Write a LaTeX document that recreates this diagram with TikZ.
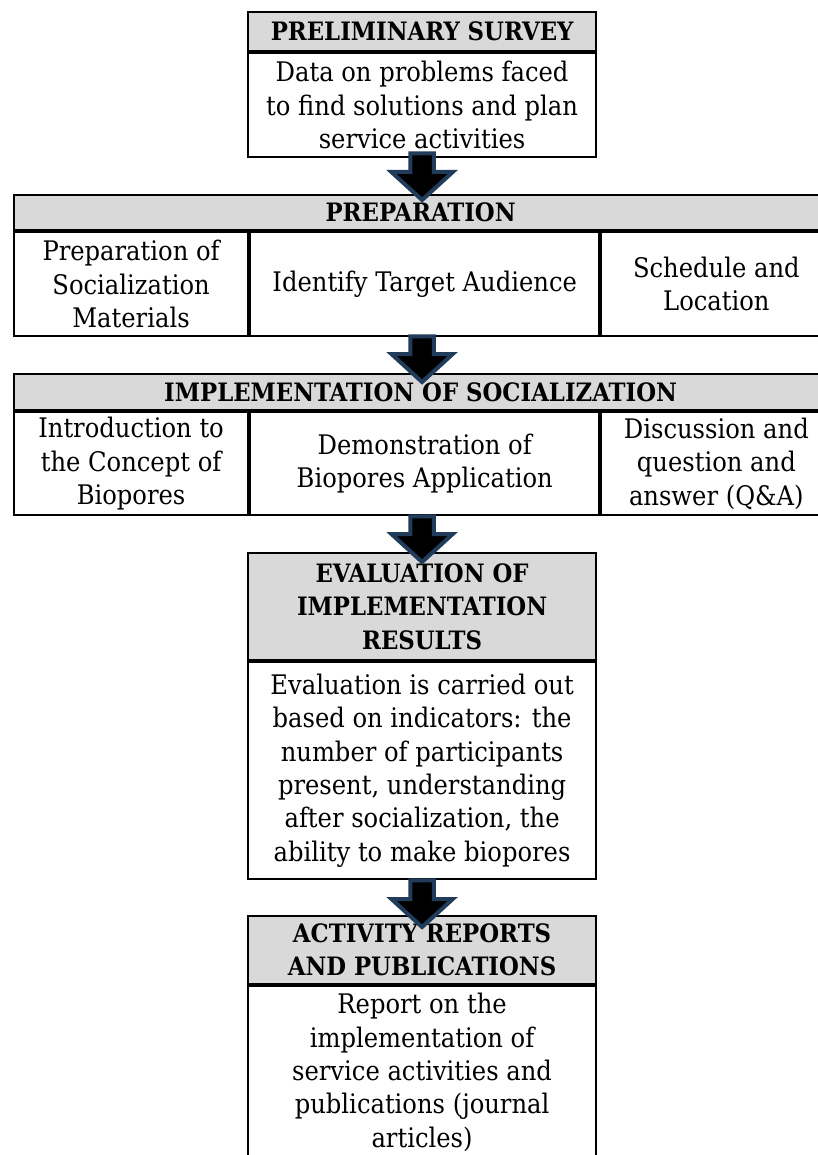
\documentclass[tikz,border=0pt]{standalone}
\usepackage{fontspec}
\setmainfont{DejaVu Serif Condensed}
\usetikzlibrary{calc}
\definecolor{hdrgrey}{RGB}{217,217,217}
\definecolor{arrowedge}{RGB}{33,59,90}
% block arrow from a start coordinate (top of shaft) down to a tip coordinate
\newcommand\flowarrow[2]{%
  \draw[blockarrow] let \p1=(#1), \p2=(#2) in
    (\x1-8.8pt,\y1) -- (\x1-8.8pt,\y2+21pt) -- (\x1-23pt,\y2+21pt) -- (\x1,\y2)
    -- (\x1+23pt,\y2+21pt) -- (\x1+8.8pt,\y2+21pt) -- (\x1+8.8pt,\y1) -- cycle;}
\begin{document}
\begin{tikzpicture}[x=0.75pt,y=-0.75pt,
  box/.style={draw=black, line width=1.6pt, inner sep=0pt, align=center,
    anchor=north west, font=\fontsize{20.2}{25}\selectfont},
  hdr/.style={box, fill=hdrgrey, font=\bfseries\fontsize{19}{25}\selectfont},
  blockarrow/.style={fill=black, draw=arrowedge, line width=3pt, line join=miter}]
\useasboundingbox (0,0) rectangle (817,1155);

% preliminary survey
\node[hdr, minimum width=261pt, minimum height=29.25pt] (h1) at (247,11) {PRELIMINARY SURVEY};
\node[box, minimum width=261pt, minimum height=78pt] (t1) at (h1.south west)
  {Data on problems faced\\to find solutions and plan\\service activities};

% preparation
\node[hdr, minimum width=609.75pt, minimum height=26.25pt] (h2) at (13,194) {PREPARATION};
\node[box, minimum width=175.5pt, minimum height=78pt] (p1) at (h2.south west)
  {Preparation of\\Socialization\\Materials};
\node[box, minimum width=261.75pt, minimum height=78pt] (p2) at (p1.north east)
  {Identify Target Audience};
\node[box, minimum width=172.5pt, minimum height=78pt] (p3) at (p2.north east)
  {Schedule and\\Location};

% implementation
\node[hdr, minimum width=609.75pt, minimum height=27pt] (h3) at (13,373) {IMPLEMENTATION OF SOCIALIZATION};
\node[box, minimum width=175.5pt, minimum height=77.25pt] (s1) at (h3.south west)
  {Introduction to\\the Concept of\\Biopores};
\node[box, minimum width=261.75pt, minimum height=77.25pt] (s2) at (s1.north east)
  {Demonstration of\\Biopores Application};
\node[box, minimum width=172.5pt, minimum height=77.25pt] (s3) at (s2.north east)
  {Discussion and\\question and\\answer (Q\&A)};

% evaluation
\node[hdr, minimum width=261pt, minimum height=80.25pt] (h4) at (247,552)
  {EVALUATION OF\\IMPLEMENTATION\\RESULTS};
\node[box, minimum width=261pt, minimum height=162.75pt] (t4) at (h4.south west)
  {Evaluation is carried out\\based on indicators: the\\number of participants\\present, understanding\\after socialization, the\\ability to make biopores};

% reports
\node[hdr, minimum width=261pt, minimum height=51pt] (h5) at (247,915)
  {ACTIVITY REPORTS\\AND PUBLICATIONS};
\node[box, minimum width=261pt, minimum height=129.4pt] (t5) at (h5.south west)
  {Report on the\\implementation of\\service activities and\\publications (journal\\articles)};

% connectors
\coordinate (a1s) at ($(t1.south)+(0,-5)$);
\coordinate (a1e) at ($(a1s |- h2.north)+(0,6)$);
\coordinate (a2s) at ($(a1s |- p2.south)+(0,-1)$);
\coordinate (a2e) at ($(a1s |- h3.north)+(0,9)$);
\coordinate (a3s) at ($(a1s |- s2.south)+(0,0)$);
\coordinate (a3e) at ($(h4.north)+(0,10)$);
\coordinate (a4s) at ($(t4.south)+(0,0)$);
\coordinate (a4e) at ($(h5.north)+(0,12)$);
\flowarrow{a1s}{a1e}
\flowarrow{a2s}{a2e}
\flowarrow{a3s}{a3e}
\flowarrow{a4s}{a4e}
\end{tikzpicture}
\end{document}
